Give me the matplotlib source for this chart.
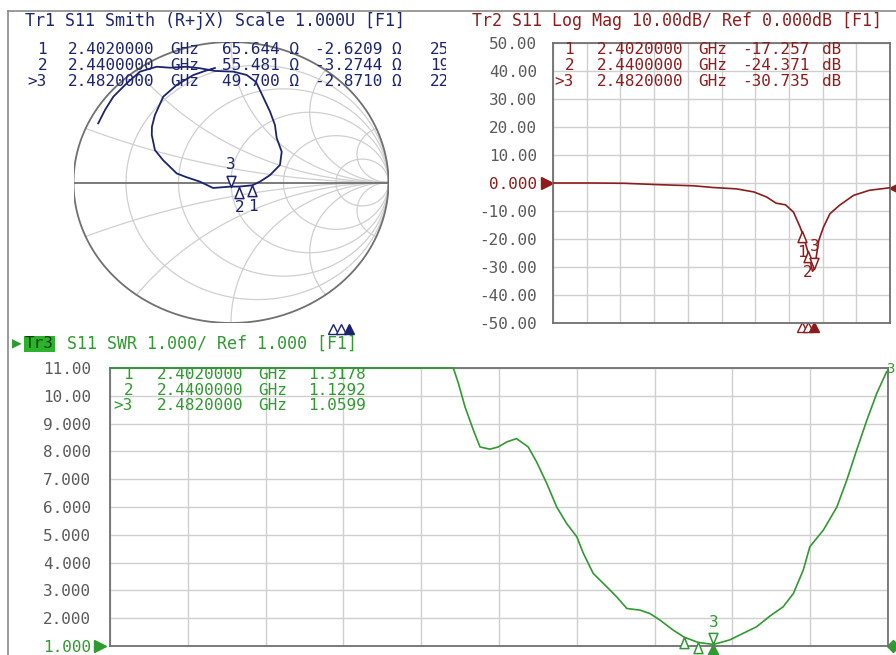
import numpy as np
import matplotlib.pyplot as plt
from matplotlib.lines import Line2D
from matplotlib.path import Path
from matplotlib.transforms import Bbox, TransformedBbox

W, H = 896, 655
f_start, f_stop = 0.83, 2.96  # GHz, sweep range

# marker data
marker_freq = [2.402, 2.440, 2.482]
marker_idx = ['1', '2', '>3']
smith_r = [65.644, 55.481, 49.700]
smith_x = [-2.6209, -3.2744, -2.8710]
smith_c = ['25', '19', '22']   # pF column, cut off at the panel edge
logmag_mk = [-17.257, -24.371, -30.735]
swr_mk = [1.3178, 1.1292, 1.0599]

# Tr1 smith trace (reflection coefficient)
smith_re = [-0.843, -0.800, -0.747, -0.662, -0.578, -0.472, -0.387, -0.281, -0.197, -0.102,
            0.015, 0.100, 0.159, 0.203, 0.248, 0.279, 0.290, 0.322, 0.311, 0.248,
            0.184, 0.135, 0.053, -0.002, -0.114, -0.197, -0.286, -0.345, -0.432, -0.483,
            -0.503, -0.502, -0.483, -0.430, -0.345, -0.239, -0.165, -0.102]
smith_im = [0.421, 0.516, 0.611, 0.706, 0.789, 0.824, 0.817, 0.824, 0.813, 0.794,
            0.789, 0.765, 0.715, 0.611, 0.504, 0.409, 0.317, 0.219, 0.125, 0.053,
            0.006, -0.020, -0.029, -0.029, -0.039, 0.006, 0.039, 0.065, 0.160, 0.231,
            0.338, 0.397, 0.480, 0.611, 0.694, 0.765, 0.794, 0.815]
smith_r_grid = [0.2, 0.5, 1, 2, 5]
smith_x_grid = [0.2, 0.5, 1, 2, 5]

# Tr2 log mag trace
lm_freq = [0.83, 1.08, 1.28, 1.50, 1.72, 1.84, 1.99, 2.10, 2.18, 2.24, 2.30, 2.35, 2.39,
           2.402, 2.42, 2.44, 2.46, 2.47, 2.482, 2.51, 2.54, 2.58, 2.64, 2.73, 2.83, 2.96]
lm_db = [0.0, 0.0, -0.1, -0.6, -1.0, -1.6, -2.1, -3.2, -5.0, -7.2, -7.8, -10.4, -15.5,
         -17.257, -20.5, -24.371, -29.0, -31.5, -30.735, -20.5, -15.7, -11.0, -8.0, -4.4, -2.6, -1.7]
lm_ticks = [-50, -40, -30, -20, -10, 0, 10, 20, 30, 40, 50]
lm_labels = ['-50.00', '-40.00', '-30.00', '-20.00', '-10.00', '0.000',
             '10.00', '20.00', '30.00', '40.00', '50.00']

# Tr3 SWR trace
swr_freq = [0.83, 1.770, 1.784, 1.802, 1.825, 1.843, 1.870, 1.893, 1.916, 1.943, 1.975, 1.998,
            2.026, 2.053, 2.080, 2.108, 2.126, 2.153, 2.190, 2.217, 2.245, 2.281, 2.308, 2.336,
            2.372, 2.402, 2.440, 2.473, 2.482, 2.500, 2.527, 2.564, 2.600, 2.637, 2.673, 2.701,
            2.728, 2.746, 2.783, 2.820, 2.847, 2.874, 2.902, 2.929, 2.956, 2.96]
swr_val = [11.0, 11.0, 10.44, 9.6, 8.76, 8.16, 8.08, 8.16, 8.34, 8.46, 8.16, 7.62,
           6.84, 6.0, 5.41, 4.93, 4.33, 3.61, 3.13, 2.77, 2.35, 2.29, 2.17, 1.93,
           1.57, 1.3178, 1.1292, 1.07, 1.0599, 1.12, 1.22, 1.46, 1.69, 2.08, 2.41, 2.89,
           3.73, 4.57, 5.17, 6.0, 6.96, 8.04, 9.12, 10.08, 10.86, 10.9]
swr_ticks = [1, 2, 3, 4, 5, 6, 7, 8, 9, 10, 11]
swr_labels = ['1.000', '2.000', '3.000', '4.000', '5.000', '6.000', '7.000', '8.000',
              '9.000', '10.00', '11.00']

navy = '#1c2470'
red = '#8e1c1c'
green = '#2f9a2f'
grid_c = '#cfcfcf'
frame_c = '#707070'
tick_c = '#5a5a5a'
mono = 'DejaVu Sans Mono'
fs = 11.5

tri_up = Path([(0, 0), (-0.4, -1), (0.4, -1), (0, 0)],
              [Path.MOVETO, Path.LINETO, Path.LINETO, Path.CLOSEPOLY])
tri_dn = Path([(0, 0), (-0.4, 1), (0.4, 1), (0, 0)],
              [Path.MOVETO, Path.LINETO, Path.LINETO, Path.CLOSEPOLY])


def fx(x):
    return x / W


def fy(y):
    return 1 - y / H


def ftext(x, y, s, color, ha='left', size=fs, **kw):
    return fig.text(fx(x), fy(y), s, color=color, ha=ha, va='center',
                    family=mono, fontsize=size, **kw)


def draw_markers(ax, xs, ys, color, low_labels=True):
    for i, (x, y) in enumerate(zip(xs, ys)):
        if i < 2:
            ax.plot(x, y, marker=tri_up, ms=16, mfc='white', mec=color, mew=1.1,
                    ls='none', clip_on=False, zorder=5)
            if low_labels:
                ax.annotate(str(i + 1), (x, y), xytext=(0, -15), textcoords='offset points',
                            ha='center', va='center', color=color, family=mono, fontsize=fs,
                            annotation_clip=False)
        else:
            ax.plot(x, y, marker=tri_dn, ms=16, mfc='white', mec=color, mew=1.1,
                    ls='none', clip_on=False, zorder=5)
            ax.annotate('3', (x, y), xytext=(0, 16), textcoords='offset points',
                        ha='center', va='center', color=color, family=mono, fontsize=fs,
                        annotation_clip=False)


fig = plt.figure(figsize=(8.96, 6.55), dpi=100)
fig.patch.set_facecolor('white')

# outer frame
fig.add_artist(Line2D([fx(8), 1], [fy(11), fy(11)], color='#8a8a8a', lw=1.2))
fig.add_artist(Line2D([fx(8), fx(8)], [fy(11), 0], color='#8a8a8a', lw=1.2))

# ---- Tr1 Smith chart ----
ax_s = fig.add_axes([fx(73.5), fy(323), 315 / W, 281 / H])
ax_s.set_xlim(-1, 1)
ax_s.set_ylim(-1, 1)
ax_s.axis('off')
t = np.tan(np.linspace(-np.pi / 2 + 1e-4, np.pi / 2 - 1e-4, 800))
tp = np.tan(np.linspace(0, np.pi / 2 - 1e-4, 800))
for r in smith_r_grid:
    g = (r + 1j * t - 1) / (r + 1j * t + 1)
    ax_s.plot(g.real, g.imag, color=grid_c, lw=0.9)
for xg in smith_x_grid:
    for sgn in (1, -1):
        g = (tp + 1j * sgn * xg - 1) / (tp + 1j * sgn * xg + 1)
        ax_s.plot(g.real, g.imag, color=grid_c, lw=0.9)
th = np.linspace(0, 2 * np.pi, 400)
ax_s.plot(np.cos(th), np.sin(th), color=frame_c, lw=1.3)
ax_s.plot([-1, 1], [0, 0], color=frame_c, lw=1.3)
ax_s.plot(smith_re, smith_im, color=navy, lw=1.3)
z_mk = (np.array(smith_r) + 1j * np.array(smith_x)) / 50
g_mk = (z_mk - 1) / (z_mk + 1)
draw_markers(ax_s, g_mk.real, g_mk.imag, navy)

ftext(25, 21, 'Tr1 S11 Smith (R+jX) Scale 1.000U [F1]', navy, size=12)
clip = TransformedBbox(Bbox([[0, 0], [fx(446), 1]]), fig.transFigure)
for i, y in enumerate([50, 66, 81]):
    ftext(47, y, marker_idx[i], navy, ha='right')
    ftext(68, y, f'{marker_freq[i]:.7f}', navy)
    ftext(170, y, 'GHz', navy)
    ftext(222, y, f'{smith_r[i]:.3f} Ω', navy)
    ftext(315, y, f'{smith_x[i]:.4f} Ω', navy)
    tx = ftext(430, y, smith_c[i], navy)
    tx.set_clip_box(clip)
    tx.set_clip_on(True)

ax_st = fig.add_axes([fx(8), fy(333), 440 / W, 8 / H])
ax_st.set_xlim(f_start, f_stop)
ax_st.set_ylim(0, 1)
ax_st.axis('off')
for i, f in enumerate(marker_freq):
    ax_st.plot(f, 0.5, marker='^', ms=7, mec=navy, mfc=navy if i == 2 else 'white',
               mew=1, clip_on=False)

# ---- Tr2 Log Mag ----
ax_l = fig.add_axes([fx(553), fy(323), 337 / W, 280 / H])
ax_l.set_xlim(f_start, f_stop)
ax_l.set_ylim(-50, 50)
ax_l.set_xticks(np.linspace(f_start, f_stop, 11))
ax_l.set_yticks(lm_ticks)
ax_l.set_yticklabels(lm_labels, family=mono, fontsize=fs)
ax_l.tick_params(length=0, labelbottom=False, pad=11.5, labelcolor=tick_c)
ax_l.get_yticklabels()[5].set_color(red)
ax_l.grid(True, color=grid_c, lw=1)
for sp in ax_l.spines.values():
    sp.set_color(frame_c)
    sp.set_linewidth(1.3)
ax_l.plot(lm_freq, lm_db, color=red, lw=1.2, zorder=3)
draw_markers(ax_l, marker_freq, logmag_mk, red)
ax_l.plot(-0.018, 0, marker='>', ms=8, color=red, transform=ax_l.get_yaxis_transform(),
          clip_on=False)
ax_l.plot(1.01, -1.7, marker='<', ms=6, color=red, transform=ax_l.get_yaxis_transform(),
          clip_on=False)
for i, f in enumerate(marker_freq):
    ax_l.plot(f, -0.015, marker='^', ms=7, mec=red, mfc=red if i == 2 else 'white',
              mew=1, clip_on=False, transform=ax_l.get_xaxis_transform())

ftext(472, 21, 'Tr2 S11 Log Mag 10.00dB/ Ref 0.000dB [F1]', red, size=12)
for i, y in enumerate([50, 66, 81]):
    ftext(574, y, marker_idx[i], red, ha='right')
    ftext(597, y, f'{marker_freq[i]:.7f}', red)
    ftext(698, y, 'GHz', red)
    ftext(742, y, f'{logmag_mk[i]:.3f}', red)
    ftext(822, y, 'dB', red)

# ---- Tr3 SWR ----
ax_w = fig.add_axes([fx(110), fy(646), 778 / W, 278 / H])
ax_w.set_xlim(f_start, f_stop)
ax_w.set_ylim(1, 11)
ax_w.set_xticks(np.linspace(f_start, f_stop, 11))
ax_w.set_yticks(swr_ticks)
ax_w.set_yticklabels(swr_labels, family=mono, fontsize=fs)
ax_w.tick_params(length=0, labelbottom=False, pad=13.5, labelcolor=tick_c)
ax_w.get_yticklabels()[0].set_color(green)
ax_w.grid(True, color=grid_c, lw=1)
for sp in ax_w.spines.values():
    sp.set_color(frame_c)
    sp.set_linewidth(1.3)
ax_w.plot(swr_freq, swr_val, color=green, lw=1.2, zorder=3, clip_on=False)
draw_markers(ax_w, marker_freq, swr_mk, green, low_labels=False)
ax_w.plot(-0.013, 1, marker='>', ms=9, color=green, transform=ax_w.get_yaxis_transform(),
          clip_on=False)
ax_w.plot(marker_freq[2], -0.015, marker='^', ms=8, color=green, clip_on=False,
          transform=ax_w.get_xaxis_transform())
ax_w.plot(1.006, 0.0, marker='D', ms=6, color=green, transform=ax_w.transAxes, clip_on=False)
ftext(886, 369, '3', green, size=10)

ftext(16.5, 344, '▶', green, ha='center')
ftext(25, 344, 'Tr3', '#0d3d0d', bbox=dict(facecolor='#2bb32b', edgecolor='none', pad=0.5))
ftext(67, 344, 'S11 SWR 1.000/ Ref 1.000 [F1]', green, size=12)
for i, y in enumerate([375, 391, 406]):
    ftext(133, y, marker_idx[i], green, ha='right')
    ftext(157, y, f'{marker_freq[i]:.7f}', green)
    ftext(258, y, 'GHz', green)
    ftext(308, y, f'{swr_mk[i]:.4f}', green)

fig.savefig('out.png', dpi=100, facecolor='white')
